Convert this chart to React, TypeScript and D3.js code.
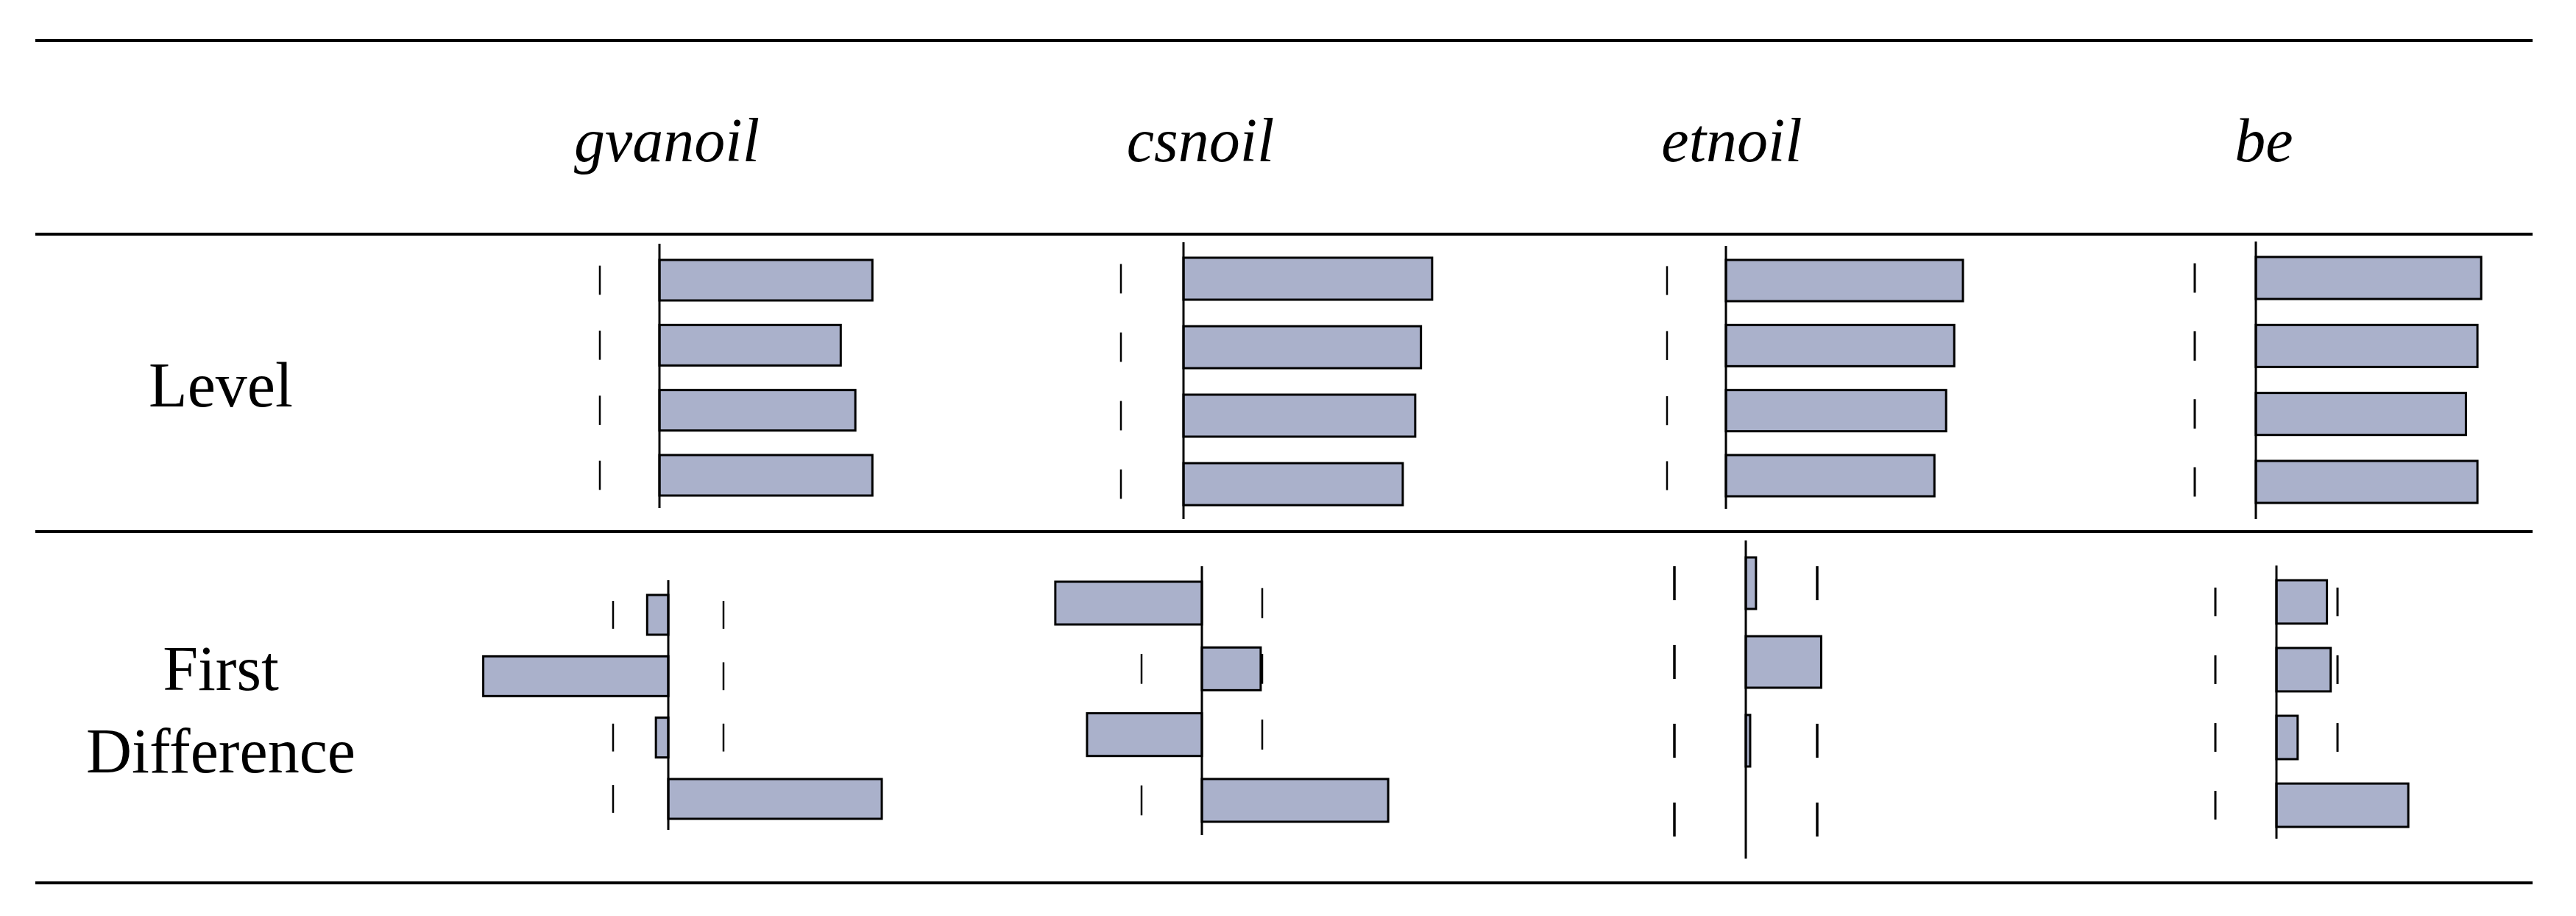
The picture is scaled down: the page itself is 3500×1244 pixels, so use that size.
import React from "react";
import * as d3 from "d3";

// ---- data ----
const columns = ["gvanoil", "csnoil", "etnoil", "be"];
const rowLabels = ["Level", "First Difference"];
const lags = ["1", "2", "3", "4"];
const criticalValue = 1.96;

const gvanoilLevel = [7.0, 5.96, 6.44, 7.0];
const csnoilLevel = [7.79, 7.44, 7.26, 6.87];
const etnoilLevel = [7.89, 7.6, 7.33, 6.94];
const beLevel = [7.23, 7.11, 6.74, 7.11];

const gvanoilDiff = [-0.75, -6.57, -0.44, 7.58];
const csnoilDiff = [-4.76, 1.91, -3.73, 6.05];
const etnoilDiff = [0.28, 2.07, 0.12, 0.0];
const beDiff = [1.62, 1.74, 0.68, 4.23];

const levelSeries = [gvanoilLevel, csnoilLevel, etnoilLevel, beLevel];
const diffSeries = [gvanoilDiff, csnoilDiff, etnoilDiff, beDiff];

// ---- layout (pixel positions) ----
const W = 3500;
const H = 1244;
const ruleX0 = 48;
const ruleX1 = 3441;
const rulesY = [55, 318, 722, 1199];
const headerX = [906, 1631, 2353, 3076];
const headerY = 219;

type PanelLayout = {
  dashX: number; // position of -critical value
  zeroX: number;
  barTop: number;
  barBottom: number;
  bandPad: number;
  axisTop: number;
  axisBottom: number;
  dashFrac: number;
  dashW: number;
};

const levelLayouts: PanelLayout[] = [
  { dashX: 815, zeroX: 896, barTop: 353, barBottom: 673, bandPad: 0.377, axisTop: 331, axisBottom: 690, dashFrac: 0.72, dashW: 2.5 },
  { dashX: 1523, zeroX: 1608, barTop: 350, barBottom: 686, bandPad: 0.387, axisTop: 329, axisBottom: 705, dashFrac: 0.7, dashW: 2.5 },
  { dashX: 2265, zeroX: 2345, barTop: 353, barBottom: 674, bandPad: 0.366, axisTop: 334, axisBottom: 691, dashFrac: 0.7, dashW: 2.5 },
  { dashX: 2982, zeroX: 3065, barTop: 349, barBottom: 683, bandPad: 0.382, axisTop: 328, axisBottom: 705, dashFrac: 0.7, dashW: 3 },
];

const diffLayouts: PanelLayout[] = [
  { dashX: 833, zeroX: 908, barTop: 808, barBottom: 1112, bandPad: 0.352, axisTop: 788, axisBottom: 1127, dashFrac: 0.7, dashW: 2.5 },
  { dashX: 1551, zeroX: 1633, barTop: 790, barBottom: 1116, bandPad: 0.35, axisTop: 769, axisBottom: 1134, dashFrac: 0.7, dashW: 2.5 },
  { dashX: 2275, zeroX: 2372, barTop: 757, barBottom: 1148, bandPad: 0.346, axisTop: 734, axisBottom: 1166, dashFrac: 0.66, dashW: 3.5 },
  { dashX: 3010, zeroX: 3093, barTop: 788, barBottom: 1123, bandPad: 0.36, axisTop: 768, axisBottom: 1139, dashFrac: 0.66, dashW: 3 },
];

const barFill = "#aab1cb";
const fontFamily = "'Liberation Serif', 'Times New Roman', serif";

function Panel({ values, layout }: { values: number[]; layout: PanelLayout }) {
  const x = d3
    .scaleLinear()
    .domain([-criticalValue, 0])
    .range([layout.dashX, layout.zeroX]);
  const y = d3
    .scaleBand<string>()
    .domain(lags)
    .range([layout.barTop, layout.barBottom])
    .paddingInner(layout.bandPad)
    .paddingOuter(0);
  const bw = y.bandwidth();
  const dh = bw * layout.dashFrac;
  return (
    <g>
      {/* critical value markers */}
      {lags.map((l) => {
        const cy = (y(l) as number) + bw / 2;
        return (
          <g key={"d" + l}>
            {[-criticalValue, criticalValue].map((c, j) => (
              <line
                key={j}
                x1={x(c)}
                x2={x(c)}
                y1={cy - dh / 2}
                y2={cy + dh / 2}
                stroke="#000"
                strokeWidth={layout.dashW}
              />
            ))}
          </g>
        );
      })}
      {/* bars */}
      {values.map((v, i) => {
        const x0 = x(Math.min(0, v));
        const x1 = x(Math.max(0, v));
        if (Math.abs(x1 - x0) < 0.5) return null;
        return (
          <rect
            key={"b" + i}
            x={x0}
            y={y(lags[i]) as number}
            width={x1 - x0}
            height={bw}
            fill={barFill}
            stroke="#000"
            strokeWidth={3}
          />
        );
      })}
      {/* zero axis */}
      <line
        x1={x(0)}
        x2={x(0)}
        y1={layout.axisTop}
        y2={layout.axisBottom}
        stroke="#000"
        strokeWidth={3}
      />
    </g>
  );
}

export default function App() {
  return (
    <svg
      width={W}
      height={H}
      viewBox={`0 0 ${W} ${H}`}
      style={{ position: "absolute", left: 0, top: 0, background: "#fff" }}
    >
      <rect x={0} y={0} width={W} height={H} fill="#fff" />
      {rulesY.map((ry, i) => (
        <line key={i} x1={ruleX0} x2={ruleX1} y1={ry} y2={ry} stroke="#000" strokeWidth={4} />
      ))}
      {columns.map((c, i) => (
        <text
          key={c}
          x={headerX[i]}
          y={headerY}
          textAnchor="middle"
          fontFamily={fontFamily}
          fontStyle="italic"
          fontSize={84}
          fill="#000"
        >
          {c}
        </text>
      ))}
      <text x={300} y={552} textAnchor="middle" fontFamily={fontFamily} fontSize={86} fill="#000">
        {rowLabels[0]}
      </text>
      <text x={300} y={937} textAnchor="middle" fontFamily={fontFamily} fontSize={86} fill="#000">
        {rowLabels[1].split(" ")[0]}
      </text>
      <text x={300} y={1049} textAnchor="middle" fontFamily={fontFamily} fontSize={86} fill="#000">
        {rowLabels[1].split(" ")[1]}
      </text>
      {levelSeries.map((s, i) => (
        <Panel key={"l" + i} values={s} layout={levelLayouts[i]} />
      ))}
      {diffSeries.map((s, i) => (
        <Panel key={"f" + i} values={s} layout={diffLayouts[i]} />
      ))}
    </svg>
  );
}
